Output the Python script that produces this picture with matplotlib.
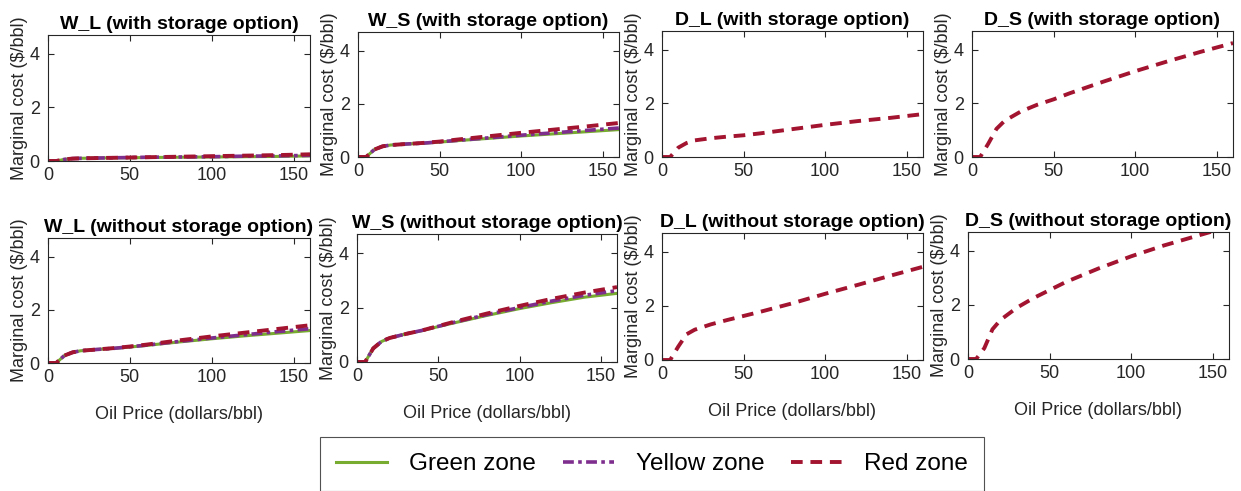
import matplotlib
matplotlib.use("Agg")
import matplotlib.pyplot as plt
import numpy as np

plt.rcParams['font.family'] = ['Liberation Sans', 'DejaVu Sans']

# Oil price grid (dollars/bbl)
oil_price = [0, 5, 10, 15, 20, 30, 40, 50, 60, 80, 100, 120, 140, 160]

# With storage option
wl_with_green  = [0, 0.0, 0.06, 0.09, 0.10, 0.11, 0.12, 0.12, 0.13, 0.14, 0.15, 0.16, 0.17, 0.19]
wl_with_yellow = [0, 0.0, 0.06, 0.09, 0.10, 0.11, 0.12, 0.13, 0.14, 0.15, 0.16, 0.18, 0.19, 0.21]
wl_with_red    = [0, 0.0, 0.06, 0.09, 0.10, 0.11, 0.12, 0.13, 0.14, 0.16, 0.18, 0.20, 0.22, 0.25]

ws_with_green  = [0, 0.0, 0.28, 0.40, 0.45, 0.49, 0.52, 0.56, 0.61, 0.70, 0.79, 0.87, 0.95, 1.03]
ws_with_yellow = [0, 0.0, 0.28, 0.40, 0.45, 0.49, 0.52, 0.57, 0.62, 0.72, 0.82, 0.91, 1.00, 1.09]
ws_with_red    = [0, 0.0, 0.28, 0.40, 0.45, 0.49, 0.53, 0.58, 0.65, 0.78, 0.91, 1.03, 1.15, 1.28]

dl_with_red    = [0, 0.0, 0.35, 0.52, 0.62, 0.70, 0.76, 0.81, 0.88, 1.04, 1.20, 1.34, 1.46, 1.60]
ds_with_red    = [0, 0.0, 0.50, 1.05, 1.35, 1.70, 1.95, 2.15, 2.38, 2.80, 3.20, 3.57, 3.92, 4.25]

# Without storage option
wl_wo_green    = [0, 0.0, 0.28, 0.40, 0.46, 0.51, 0.55, 0.60, 0.66, 0.79, 0.91, 1.02, 1.12, 1.22]
wl_wo_yellow   = [0, 0.0, 0.28, 0.40, 0.46, 0.51, 0.55, 0.61, 0.67, 0.81, 0.94, 1.06, 1.18, 1.29]
wl_wo_red      = [0, 0.0, 0.28, 0.40, 0.46, 0.51, 0.56, 0.62, 0.69, 0.85, 1.00, 1.14, 1.28, 1.42]

ws_wo_green    = [0, 0.0, 0.50, 0.75, 0.88, 1.03, 1.15, 1.30, 1.44, 1.71, 1.96, 2.18, 2.38, 2.52]
ws_wo_yellow   = [0, 0.0, 0.50, 0.75, 0.88, 1.03, 1.16, 1.31, 1.46, 1.74, 2.00, 2.24, 2.45, 2.62]
ws_wo_red      = [0, 0.0, 0.50, 0.75, 0.88, 1.03, 1.16, 1.32, 1.48, 1.78, 2.06, 2.32, 2.55, 2.75]

dl_wo_red      = [0, 0.0, 0.50, 0.95, 1.12, 1.32, 1.48, 1.63, 1.78, 2.10, 2.45, 2.78, 3.12, 3.45]
ds_wo_red      = [0, 0.0, 0.40, 1.10, 1.45, 1.90, 2.25, 2.55, 2.85, 3.35, 3.80, 4.20, 4.55, 4.90]

titles = ["W_L (with storage option)", "W_S (with storage option)",
          "D_L (with storage option)", "D_S (with storage option)",
          "W_L (without storage option)", "W_S (without storage option)",
          "D_L (without storage option)", "D_S (without storage option)"]

series = [
    (wl_with_green, wl_with_yellow, wl_with_red),
    (ws_with_green, ws_with_yellow, ws_with_red),
    (None, None, dl_with_red),
    (None, None, ds_with_red),
    (wl_wo_green, wl_wo_yellow, wl_wo_red),
    (ws_wo_green, ws_wo_yellow, ws_wo_red),
    (None, None, dl_wo_red),
    (None, None, ds_wo_red),
]

W, H = 1241, 491
# axes boxes in pixels: left, top, right, bottom
boxes = [
    (48, 35, 310, 161), (358, 32, 619, 157), (662, 31, 923, 157), (972, 31, 1233, 157),
    (48, 238, 310, 363), (357, 234, 617, 362), (662, 233, 923, 360), (968, 232, 1229, 359),
]

GREEN = '#77AC30'
PURPLE = '#7E2F8E'
RED = '#A2142F'
AXC = '#262626'

fig = plt.figure(figsize=(W / 100, H / 100), dpi=100)

handles = None
for i, ((l, t, r, b), title, (g, y, rd)) in enumerate(zip(boxes, titles, series)):
    ax = fig.add_axes([l / W, 1 - b / H, (r - l) / W, (b - t) / H])
    if g is not None:
        hg, = ax.plot(oil_price, g, color=GREEN, lw=2.2, ls='-', label='Green zone')
        hy, = ax.plot(oil_price, y, color=PURPLE, lw=2.6, ls=(0, (3, 1.2, 1, 1.2)), label='Yellow zone')
    hr, = ax.plot(oil_price, rd, color=RED, lw=2.8, ls=(0, (3, 2)), label='Red zone')
    if g is not None and handles is None:
        handles = [hg, hy, hr]
    ax.set_xlim(0, 160)
    ax.set_ylim(0, 4.7)
    ax.set_xticks([0, 50, 100, 150])
    ax.set_yticks([0, 2, 4])
    ax.tick_params(direction='in', top=True, right=True, labelsize=13, colors=AXC,
                   length=4, width=0.8)
    ax.tick_params(axis='x', pad=4)
    ax.tick_params(axis='y', pad=6)
    for s in ax.spines.values():
        s.set_color(AXC)
        s.set_linewidth(0.8)
    ax.set_title(title, fontsize=14, fontweight='bold', pad=4)
    ax.set_ylabel('Marginal cost ($/bbl)', fontsize=13, color=AXC, labelpad=1)
    if i >= 4:
        ax.set_xlabel('Oil Price (dollars/bbl)', fontsize=13, color=AXC, labelpad=15)

leg = fig.legend(handles=handles, labels=['Green zone', 'Yellow zone', 'Red zone'],
                 loc='center', bbox_to_anchor=(652 / W, 1 - 464 / H), ncol=3,
                 fontsize=17.5, frameon=True, fancybox=False, handlelength=2.1,
                 columnspacing=1.1, handletextpad=0.9, borderpad=0.65, borderaxespad=0)
leg.get_frame().set_edgecolor(AXC)
leg.get_frame().set_linewidth(0.8)

fig.savefig('out.png', dpi=100)
